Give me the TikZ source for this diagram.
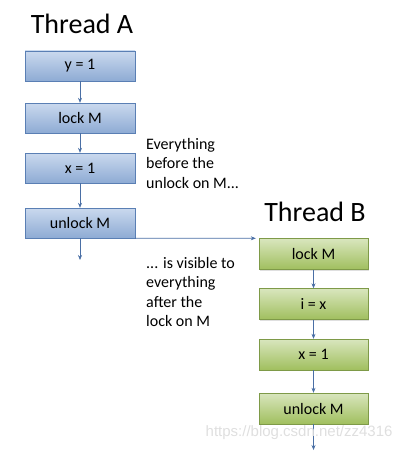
\documentclass[tikz,border=0pt]{standalone}
\usepackage{fontspec}
\setmainfont{Carlito}
\newfontfamily\wmfont{Liberation Sans}
\usetikzlibrary{arrows.meta,shadows}
\definecolor{arrowblue}{HTML}{4A6FA5}
\definecolor{bluetop}{HTML}{CAD9EE}
\definecolor{bluebot}{HTML}{8EABD4}
\definecolor{blueline}{HTML}{5A7FB4}
\definecolor{greentop}{HTML}{D9E6BE}
\definecolor{greenbot}{HTML}{A0BF5E}
\definecolor{greenline}{HTML}{7E9A48}
\tikzset{
    box/.style={draw, minimum width=110pt, minimum height=30pt, inner sep=0pt,
        font=\fontsize{16}{18}\selectfont,
        drop shadow={opacity=0.25, shadow xshift=1pt, shadow yshift=-1.2pt}},
    bluebox/.style={box, draw=blueline, top color=bluetop, bottom color=bluebot},
    greenbox/.style={box, draw=greenline, top color=greentop, bottom color=greenbot},
    flow/.style={arrowblue, semithick, -{Stealth[length=5pt,width=4pt]}},
    note/.style={anchor=north west, align=left, inner sep=0pt, font=\fontsize{16}{19.5}\selectfont}
}
\begin{document}
\begin{tikzpicture}[x=1pt,y=-1pt]
        \useasboundingbox (0,0) rectangle (402,452);
        \node[font=\fontsize{28}{30}\selectfont] (tA) at (82,24) {Thread A};
        \node[font=\fontsize{28}{30}\selectfont] (tB) at (315,212) {Thread B};
        \foreach \n/\t/\y in {a1/{y = 1}/66, a2/{lock M}/118, a3/{x = 1}/168, a4/{unlock M}/223}{
            \node[bluebox] (\n) at (80,\y) {\t};
            };
        \foreach \n/\t/\y in {b1/{lock M}/254, b2/{i = x}/304, b3/{x = 1}/354.5, b4/{unlock M}/408.5}{
            \node[greenbox, minimum width=109pt, minimum height=31pt] (\n) at (313.5,\y) {\t};
            };
        \coordinate (aEnd) at (80,260);
        \coordinate (bEnd) at (313.5,450);
        \draw[flow] (a1) -- (a2);
        \draw[flow] (a2) -- (a3);
        \draw[flow] (a3) -- (a4);
        \draw[flow] (a4) -- (aEnd);
        \draw[flow] (b1) -- (b2);
        \draw[flow] (b2) -- (b3);
        \draw[flow] (b3) -- (b4);
        \draw[flow] (b4) -- (bEnd);
        \draw[flow] (a4.south east) -- ([xshift=-3pt]b1.north west);
        \node[note] (before) at (146,138) {Everything\\before the\\unlock on M...};
        \node[note] (after) at (146,257) {... is visible to\\everything\\after the\\lock on M};
        \node[font=\wmfont\fontsize{15}{15}\selectfont, text=gray!25, anchor=east] (wm) at (396,433) {https://blog.csdn.net/zz4316};
    \end{tikzpicture}
\end{document}
